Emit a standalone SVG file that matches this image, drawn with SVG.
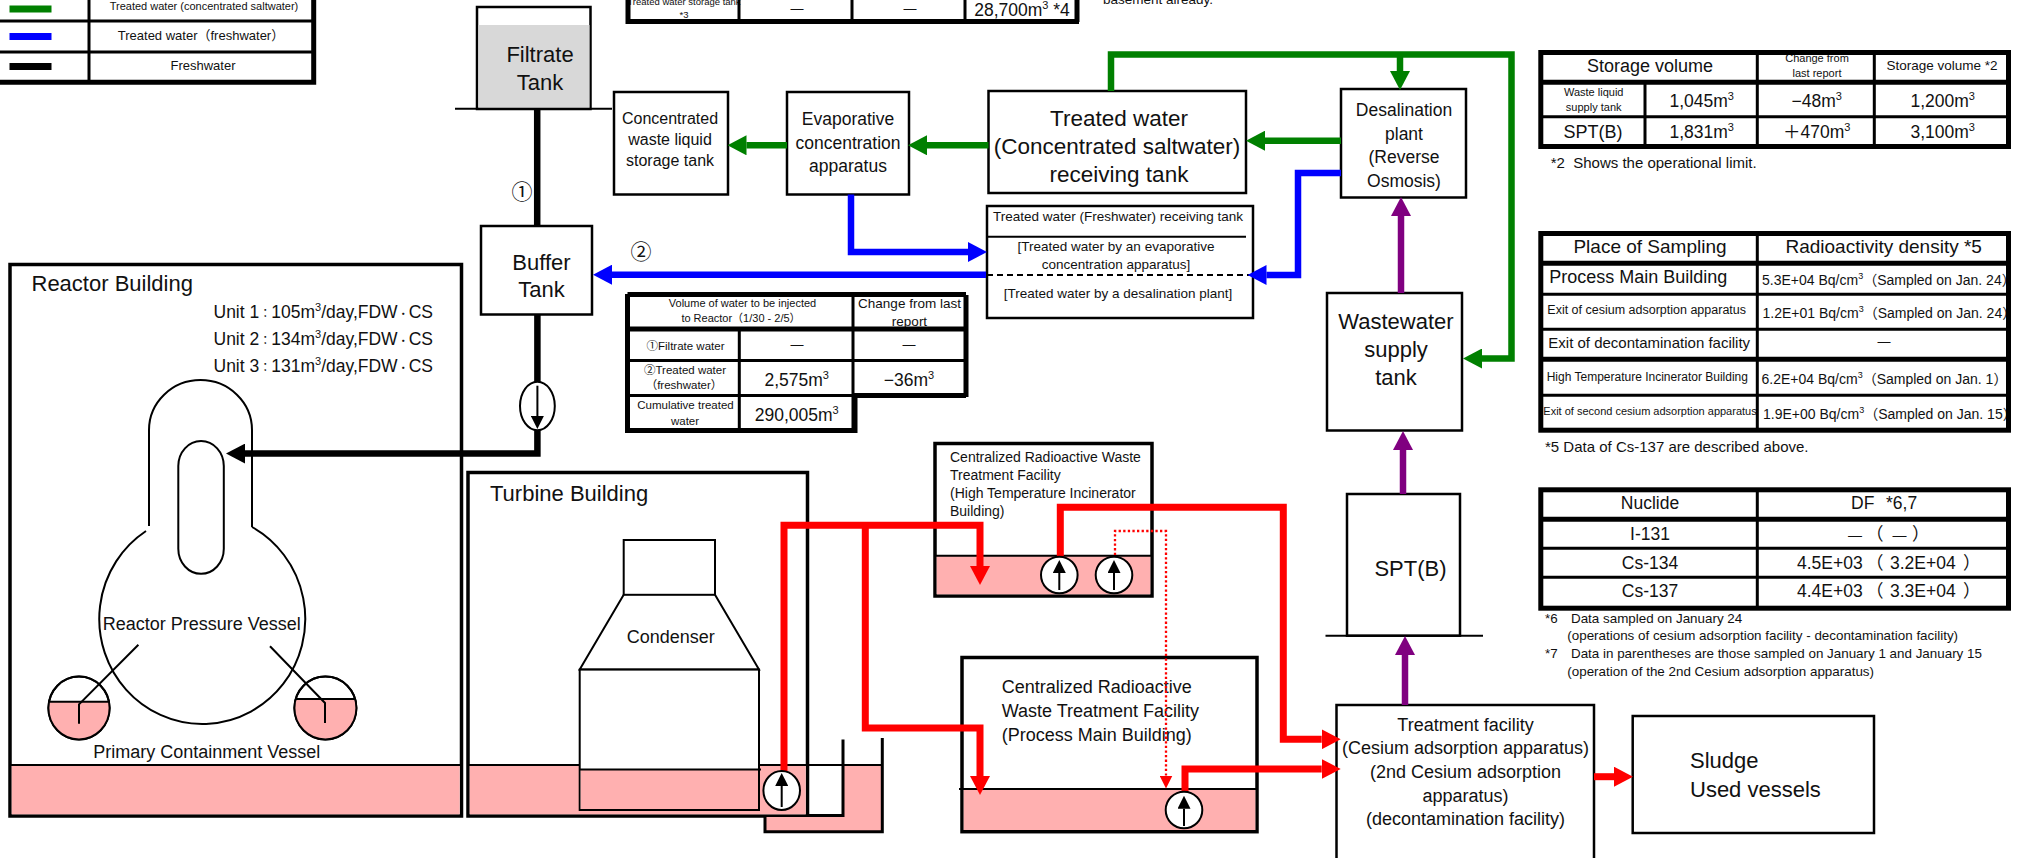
<svg xmlns="http://www.w3.org/2000/svg" width="2020" height="858" viewBox="0 0 2020 858">
<style>
text{font-family:"Liberation Sans","Noto Sans CJK JP",sans-serif;fill:#111}
.m{text-anchor:middle}
.b{fill:#fff;stroke:#000;stroke-width:2.5}
.bb{fill:#fff;stroke:#000;stroke-width:3.5}
.n{fill:none;stroke:#000;stroke-width:2}
.w{fill:#ffb0b0;stroke:none}
.o{fill:none;stroke:#000;stroke-width:5}
.i{fill:none;stroke:#000;stroke-width:3}
.p{fill:#fff;stroke:#000;stroke-width:2}
.c{fill:none;stroke-width:6.5;stroke-linejoin:miter}
.g{stroke:#008000}.u{stroke:#0000ff}.k{stroke:#000}.r{stroke:#ff0000;stroke-width:7}.v{stroke:#800080}
</style>
<defs>
<marker id="ag" markerUnits="userSpaceOnUse" markerWidth="19" markerHeight="20" viewBox="0 0 19 20" refX="0" refY="10" orient="auto"><path d="M0,0L19,10L0,20z" fill="#008000"/></marker>
<marker id="au" markerUnits="userSpaceOnUse" markerWidth="19" markerHeight="20" viewBox="0 0 19 20" refX="0" refY="10" orient="auto"><path d="M0,0L19,10L0,20z" fill="#0000ff"/></marker>
<marker id="ak" markerUnits="userSpaceOnUse" markerWidth="19" markerHeight="20" viewBox="0 0 19 20" refX="0" refY="10" orient="auto"><path d="M0,0L19,10L0,20z" fill="#000"/></marker>
<marker id="ar" markerUnits="userSpaceOnUse" markerWidth="19" markerHeight="20" viewBox="0 0 19 20" refX="0" refY="10" orient="auto"><path d="M0,0L19,10L0,20z" fill="#ff0000"/></marker>
<marker id="av" markerUnits="userSpaceOnUse" markerWidth="19" markerHeight="20" viewBox="0 0 19 20" refX="0" refY="10" orient="auto"><path d="M0,0L19,10L0,20z" fill="#800080"/></marker>
<marker id="ad" markerUnits="userSpaceOnUse" markerWidth="13" markerHeight="13" viewBox="0 0 13 13" refX="0" refY="6.5" orient="auto"><path d="M0,0L13,6.5L0,13z" fill="#ff0000"/></marker>
<marker id="ap" markerUnits="userSpaceOnUse" markerWidth="13" markerHeight="13" viewBox="0 0 13 13" refX="0" refY="6.5" orient="auto"><path d="M0,0L13,6.5L0,13z" fill="#000"/></marker>
</defs>

<g id="legend">
<rect x="9.5" y="5.5" width="42" height="7" fill="#008000"/>
<rect x="9.5" y="33" width="42" height="7" fill="#0000ff"/>
<rect x="9.5" y="63" width="42" height="7" fill="#000"/>
<text class="m" x="204" y="10" font-size="11">Treated water (concentrated saltwater)</text>
<text class="m" x="201" y="40" font-size="13">Treated water（freshwater）</text>
<text class="m" x="203" y="70" font-size="13">Freshwater</text>
<path class="i" d="M89,0V82M0,21H314M0,52H314"/>
<path class="o" d="M313.7,0V82.3H0" stroke-width="4.7"/>
</g>

<g id="table-top">
<text class="m" x="684" y="4.5" font-size="9.5">Treated water storage tank</text>
<text class="m" x="684" y="17.5" font-size="9.5">*3</text>
<text class="m" x="797" y="13" font-size="13">—</text>
<text class="m" x="910" y="13" font-size="13">—</text>
<text class="m" x="1022" y="16" font-size="17.5">28,700m<tspan dy="-7" font-size="11">3</tspan><tspan dy="7"> *4</tspan></text>
<path class="i" d="M739,0V20M852,0V20M965,0V20"/>
<path class="o" d="M628,0V24M628,21.5H1079M1077,0V22" stroke-width="4.5"/>
<text x="1103" y="4" font-size="13.5">basement already.</text>
</g>

<g id="filtrate-tank">
<rect class="b" x="477" y="7" width="113.5" height="102"/>
<rect x="478.5" y="25" width="111" height="83" fill="#d8d8d8"/>
<path class="n" d="M455,108.7H612"/>
<text class="m" x="540" y="62" font-size="22">Filtrate</text>
<text class="m" x="540" y="90" font-size="22">Tank</text>
</g>
<text class="m" x="522" y="199" font-size="21">①</text>
<text class="m" x="641" y="259" font-size="21">②</text>

<g id="buffer-tank">
<rect class="b" x="481" y="226" width="111" height="88.5"/>
<text class="m" x="541.5" y="269.5" font-size="22">Buffer</text>
<text class="m" x="541.5" y="297" font-size="22">Tank</text>
</g>

<g id="concentrated-storage">
<rect class="b" x="614" y="92" width="114" height="102.5"/>
<text class="m" x="670" y="124" font-size="16">Concentrated</text>
<text class="m" x="670" y="145" font-size="16">waste liquid</text>
<text class="m" x="670" y="166" font-size="16">storage tank</text>
</g>
<g id="evaporative">
<rect class="b" x="787" y="92" width="122" height="102.5"/>
<text class="m" x="848" y="125" font-size="17.5">Evaporative</text>
<text class="m" x="848" y="149" font-size="17.5">concentration</text>
<text class="m" x="848" y="172" font-size="17.5">apparatus</text>
</g>
<g id="treated-receiving">
<rect class="b" x="988.5" y="91" width="257.5" height="102"/>
<text class="m" x="1119" y="126" font-size="22.5">Treated water</text>
<text class="m" x="1117" y="154" font-size="22.5">(Concentrated saltwater)</text>
<text class="m" x="1119" y="182" font-size="22.5">receiving tank</text>
</g>
<g id="desalination">
<rect class="b" x="1341" y="89" width="125" height="108.5"/>
<text class="m" x="1404" y="116" font-size="17.5">Desalination</text>
<text class="m" x="1404" y="140" font-size="17.5">plant</text>
<text class="m" x="1404" y="163" font-size="17.5">(Reverse</text>
<text class="m" x="1404" y="187" font-size="17.5">Osmosis)</text>
</g>
<g id="freshwater-receiving">
<rect class="b" x="987" y="206" width="266" height="112"/>
<path class="n" d="M987,236.7H1246"/>
<path class="n" d="M987,275H1253" stroke-dasharray="6 4"/>
<text class="m" x="1118" y="221" font-size="13.5">Treated water (Freshwater) receiving tank</text>
<text class="m" x="1116" y="250.5" font-size="13.5">[Treated water by an evaporative</text>
<text class="m" x="1116" y="268.5" font-size="13.5">concentration apparatus]</text>
<text class="m" x="1118" y="297.5" font-size="13.5">[Treated water by a desalination plant]</text>
</g>
<g id="wastewater">
<rect class="b" x="1327" y="293" width="135" height="137.5"/>
<text class="m" x="1396" y="329" font-size="22">Wastewater</text>
<text class="m" x="1396" y="357" font-size="22">supply</text>
<text class="m" x="1396" y="385" font-size="22">tank</text>
</g>
<g id="spt-b">
<rect class="b" x="1347" y="494" width="113" height="141.7"/>
<path class="n" d="M1325.5,635.7H1483"/>
<text class="m" x="1410.5" y="576" font-size="22">SPT(B)</text>
</g>
<g id="treatment-facility">
<path class="b" d="M1336.5,860V705H1594V860"/>
<text class="m" x="1465.5" y="730.5" font-size="18">Treatment facility</text>
<text class="m" x="1465.5" y="754" font-size="18">(Cesium adsorption apparatus)</text>
<text class="m" x="1465.5" y="778" font-size="18">(2nd Cesium adsorption</text>
<text class="m" x="1465.5" y="802" font-size="18">apparatus)</text>
<text class="m" x="1465.5" y="825" font-size="18">(decontamination facility)</text>
</g>
<g id="sludge">
<rect class="b" x="1632.7" y="716" width="241.3" height="117"/>
<text x="1690" y="768" font-size="22">Sludge</text>
<text x="1690" y="796.7" font-size="22">Used vessels</text>
</g>

<g id="reactor-building">
<rect class="bb" x="10" y="264.5" width="451.5" height="551.5"/>
<rect class="w" x="11.7" y="765" width="448" height="49.3"/>
<path class="n" d="M11,765H461"/>
<text x="31.5" y="290.5" font-size="22">Reactor Building</text>
<text x="213.5" y="318" font-size="17.5">Unit 1<tspan font-size="12">：</tspan>105m<tspan dy="-7" font-size="11">3</tspan><tspan dy="7">/day,FDW</tspan><tspan font-size="11">・</tspan>CS</text>
<text x="213.5" y="345" font-size="17.5">Unit 2<tspan font-size="12">：</tspan>134m<tspan dy="-7" font-size="11">3</tspan><tspan dy="7">/day,FDW</tspan><tspan font-size="11">・</tspan>CS</text>
<text x="213.5" y="372" font-size="17.5">Unit 3<tspan font-size="12">：</tspan>131m<tspan dy="-7" font-size="11">3</tspan><tspan dy="7">/day,FDW</tspan><tspan font-size="11">・</tspan>CS</text>
<path class="n" d="M149,526V430A51.5,50 0 0 1 252,430V527"/>
<path class="n" d="M146,531A103,105 0 1 0 252,527"/>
<rect class="n" x="178.3" y="441" width="45.5" height="132.8" rx="22.75" ry="25"/>
<text class="m" x="201.7" y="630" font-size="18">Reactor Pressure Vessel</text>
<text class="m" x="206.8" y="758" font-size="18">Primary Containment Vessel</text>
<ellipse class="p" cx="79" cy="708" rx="30.6" ry="31.4"/>
<path class="w" d="M49,701.7A30.6,31.4 0 1 0 109,701.7Z"/>
<path class="n" d="M49,701.7H109"/>
<ellipse class="n" cx="79" cy="708" rx="30.6" ry="31.4"/>
<ellipse class="p" cx="325.4" cy="708" rx="31" ry="31.4"/>
<path class="w" d="M295.7,699A31,31.4 0 1 0 355.1,699Z"/>
<path class="n" d="M295.7,699H355.1"/>
<ellipse class="n" cx="325.4" cy="708" rx="31" ry="31.4"/>
<path class="n" d="M138.4,644.7L79,704.4V723.8M270,646.3L325,703V723"/>
</g>

<g id="turbine-building">
<rect class="bb" x="468" y="472.5" width="339.5" height="343.5"/>
<rect class="w" x="469.7" y="765" width="336" height="49.3"/>
<path class="n" d="M469,765H882"/>
<text x="490" y="500.5" font-size="22">Turbine Building</text>
<g id="condenser">
<rect class="n" x="623.7" y="540" width="91.3" height="54.8"/>
<path class="n" d="M623.7,594.8L579.7,669.6H759L715,594.8"/>
<rect class="p" x="579.7" y="669.6" width="179.3" height="140.4"/>
<rect class="w" x="580.7" y="769.5" width="177.3" height="39.5"/>
<path class="n" d="M579.7,769.5H761"/>
<text class="m" x="670.7" y="643" font-size="18">Condenser</text>
</g>
</g>

<g id="sump">
<path class="w" d="M843,765H882V831H765V817H843Z"/>
<path class="n" d="M809,765H882"/>
<path class="i" d="M843,739.5V815.5H809M882.3,738V831.8H765V817"/>
</g>

<g id="table-injection">
<text class="m" x="742.5" y="306.5" font-size="11">Volume of water to be injected</text>
<text class="m" x="741" y="321.5" font-size="11">to Reactor（1/30 - 2/5）</text>
<text class="m" x="909.5" y="308" font-size="13.5">Change from last</text>
<text class="m" x="909.5" y="326" font-size="13.5">report</text>
<text class="m" x="685.5" y="349.5" font-size="11.5">①Filtrate water</text>
<text class="m" x="797" y="349" font-size="13">—</text>
<text class="m" x="909" y="349" font-size="13">—</text>
<text class="m" x="685" y="374" font-size="11.5">②Treated water</text>
<text class="m" x="684" y="388.5" font-size="11.5">（freshwater）</text>
<text class="m" x="796.7" y="386" font-size="17.5">2,575m<tspan dy="-7" font-size="11">3</tspan></text>
<text class="m" x="909" y="386" font-size="17.5">−36m<tspan dy="-7" font-size="11">3</tspan></text>
<text class="m" x="685.5" y="409" font-size="11.5">Cumulative treated</text>
<text class="m" x="685" y="425" font-size="11.5">water</text>
<text class="m" x="796.7" y="421" font-size="17.5">290,005m<tspan dy="-7" font-size="11">3</tspan></text>
<path class="i" d="M739.3,329V432M853,295V432" />
<path class="i" d="M628,360.4H966"/>
<path class="o" d="M628,329H966" stroke-width="4"/>
<path class="o" d="M853,395.4H966" stroke-width="4"/>
<path class="i" d="M628,395.4H853" stroke-width="3"/>
<path class="o" d="M966,295V397M627.5,294.5H966M627.5,294V430.5H855V395" stroke-width="4.5"/>
</g>

<g id="table-storage">
<text class="m" x="1650" y="72" font-size="18">Storage volume</text>
<text class="m" x="1817" y="62" font-size="11">Change from</text>
<text class="m" x="1817" y="77" font-size="11">last report</text>
<text class="m" x="1942" y="70" font-size="13.5">Storage volume *2</text>
<text class="m" x="1593.7" y="96" font-size="11">Waste liquid</text>
<text class="m" x="1593.7" y="111" font-size="11">supply tank</text>
<text class="m" x="1701.7" y="107" font-size="17.5">1,045m<tspan dy="-7" font-size="11">3</tspan></text>
<text class="m" x="1816.7" y="107" font-size="17.5">−48m<tspan dy="-7" font-size="11">3</tspan></text>
<text class="m" x="1942.7" y="107" font-size="17.5">1,200m<tspan dy="-7" font-size="11">3</tspan></text>
<text class="m" x="1593" y="137.5" font-size="18">SPT(B)</text>
<text class="m" x="1701.7" y="137.5" font-size="17.5">1,831m<tspan dy="-7" font-size="11">3</tspan></text>
<text class="m" x="1816.7" y="137.5" font-size="17.5">＋470m<tspan dy="-7" font-size="11">3</tspan></text>
<text class="m" x="1942.7" y="137.5" font-size="17.5">3,100m<tspan dy="-7" font-size="11">3</tspan></text>
<path class="i" d="M1757.3,52V147M1874.3,52V147M1645,82V147M1541,116.7H2008"/>
<path class="o" d="M1541,82.3H2008"/>
<rect class="o" x="1540.8" y="52.5" width="467.7" height="94"/>
<text x="1550.7" y="167.7" font-size="15" xml:space="preserve">*2  Shows the operational limit.</text>
</g>

<g id="table-density">
<text class="m" x="1650" y="253" font-size="19">Place of Sampling</text>
<text class="m" x="1883.7" y="253" font-size="19">Radioactivity density *5</text>
<text x="1549.3" y="283.3" font-size="18">Process Main Building</text>
<text x="1762" y="285" font-size="14">5.3E+04 Bq/cm<tspan dy="-6" font-size="9">3</tspan><tspan dy="6">（Sampled on Jan. 24）</tspan></text>
<text x="1547.3" y="314.3" font-size="12.5">Exit of cesium adsorption apparatus</text>
<text x="1762.5" y="318.3" font-size="14">1.2E+01 Bq/cm<tspan dy="-6" font-size="9">3</tspan><tspan dy="6">（Sampled on Jan. 24）</tspan></text>
<text x="1548.3" y="347.7" font-size="15">Exit of decontamination facility</text>
<text class="m" x="1884" y="346" font-size="13">—</text>
<text x="1546.7" y="380.7" font-size="12">High Temperature Incinerator Building</text>
<text x="1761.5" y="384.3" font-size="14">6.2E+04 Bq/cm<tspan dy="-6" font-size="9">3</tspan><tspan dy="6">（Sampled on Jan. 1）</tspan></text>
<text x="1543.3" y="415.3" font-size="11">Exit of second cesium adsorption apparatus</text>
<text x="1763" y="419.3" font-size="14">1.9E+00 Bq/cm<tspan dy="-6" font-size="9">3</tspan><tspan dy="6">（Sampled on Jan. 15）</tspan></text>
<path class="i" d="M1757.3,233V431M1541,294.3H2008M1541,329.3H2008M1541,395.3H2008"/>
<path class="o" d="M1541,263.3H2008M1541,359.3H2008"/>
<rect class="o" x="1540.8" y="233.5" width="467.7" height="196.7"/>
<text x="1545" y="452" font-size="15">*5 Data of Cs-137 are described above.</text>
</g>

<g id="table-df">
<text class="m" x="1650" y="509" font-size="17.5">Nuclide</text>
<text y="509" font-size="17.5"><tspan x="1851">DF</tspan><tspan x="1886">*6,7</tspan></text>
<text class="m" x="1650" y="540" font-size="17.5">I-131</text>
<text y="540" font-size="17.5"><tspan x="1848" font-size="14">—</tspan><tspan x="1866">（</tspan><tspan x="1892.5" font-size="14">—</tspan><tspan x="1912">）</tspan></text>
<text class="m" x="1650" y="569" font-size="17.5">Cs-134</text>
<text y="569" font-size="17.5"><tspan x="1797">4.5E+03</tspan><tspan x="1866">（</tspan><tspan x="1890">3.2E+04</tspan><tspan x="1963">）</tspan></text>
<text class="m" x="1650" y="597" font-size="17.5">Cs-137</text>
<text y="597" font-size="17.5"><tspan x="1797">4.4E+03</tspan><tspan x="1866">（</tspan><tspan x="1890">3.3E+04</tspan><tspan x="1963">）</tspan></text>
<path class="i" d="M1757.3,488V610M1541,548.3H2008M1541,577.3H2008"/>
<path class="o" d="M1541,519.3H2008"/>
<rect class="o" x="1540.8" y="489.8" width="467.7" height="118.4"/>
<text x="1545" y="623" font-size="13.4">*6</text>
<text x="1571" y="623" font-size="13.4">Data sampled on January 24</text>
<text x="1567.3" y="640.3" font-size="13.4">(operations of cesium adsorption facility - decontamination facility)</text>
<text x="1545" y="658.3" font-size="13.4">*7</text>
<text x="1571" y="658.3" font-size="13.4">Data in parentheses are those sampled on January 1 and January 15</text>
<text x="1567.3" y="676" font-size="13.4">(operation of the 2nd Cesium adsorption apparatus)</text>
</g>

<g id="hti-building">
<rect class="bb" x="935" y="443.5" width="217" height="152.5"/>
<rect class="w" x="936.7" y="555.7" width="213.6" height="38.6"/>
<path class="n" d="M936,555.7H1151"/>
<text x="950" y="462" font-size="14">Centralized Radioactive Waste</text>
<text x="950" y="479.5" font-size="14">Treatment Facility</text>
<text x="950" y="497.5" font-size="14">(High Temperature Incinerator</text>
<text x="950" y="515.5" font-size="14">Building)</text>
</g>
<g id="pm-building">
<rect class="bb" x="962" y="657.5" width="295" height="174.2"/>
<rect class="w" x="963.7" y="789" width="291.6" height="41"/>
<path class="n" d="M959,789H1256"/>
<text x="1001.7" y="693.3" font-size="18">Centralized Radioactive</text>
<text x="1001.7" y="717.3" font-size="18">Waste Treatment Facility</text>
<text x="1001.7" y="740.7" font-size="18">(Process Main Building)</text>
</g>

<g id="connectors">
<path class="c k" d="M537.2,109V226M537.4,314V382M537.4,430V453.6H245" marker-end="url(#ak)"/>
<path class="c g" d="M1111,91V54.5H1511.5V358.5H1482" marker-end="url(#ag)"/>
<path class="c g" d="M1400,54.5V71" marker-end="url(#ag)"/>
<path class="c g" d="M1341,140.7H1265" marker-end="url(#ag)"/>
<path class="c g" d="M988.5,145.3H927" marker-end="url(#ag)"/>
<path class="c g" d="M787,145.3H746.5" marker-end="url(#ag)"/>
<path class="c u" d="M851,194.5V252H968" marker-end="url(#au)"/>
<path class="c u" d="M1341,173H1298V275H1266.5" marker-end="url(#au)"/>
<path class="c u" d="M986,274.7H612" marker-end="url(#au)"/>
<path class="c v" d="M1401,293V216" marker-end="url(#av)"/>
<path class="c v" d="M1403,494V450" marker-end="url(#av)"/>
<path class="c v" d="M1405,705V655" marker-end="url(#av)"/>
<path class="c r" d="M784,771V525.3H980V566" marker-end="url(#ar)"/>
<path class="c r" d="M865.3,525.3V728H980V776" marker-end="url(#ar)"/>
<path class="c r" d="M1060.3,557V507.3H1283.3V739.3H1321.7" marker-end="url(#ar)"/>
<path class="c r" d="M1185,792V769H1321.7" marker-end="url(#ar)"/>
<path class="c r" d="M1594,776.7H1614" marker-end="url(#ar)"/>
<path d="M1115,555V531H1166V775.5" fill="none" stroke="#ff0000" stroke-width="2.3" stroke-dasharray="2.3 2.3" marker-end="url(#ad)"/>
</g>

<g id="pump-feed">
<ellipse class="p" cx="537.4" cy="406" rx="17.4" ry="24.3"/>
<path class="n" d="M537.4,385.7V416" stroke-width="1.5" marker-end="url(#ap)"/>
</g>
<g id="pump-turbine">
<ellipse class="p" cx="781.7" cy="790.5" rx="18.3" ry="19.5"/>
<path class="n" d="M781.7,807V786" stroke-width="1.5" marker-end="url(#ap)"/>
</g>
<g id="pump-hti-1">
<ellipse class="p" cx="1059.3" cy="575" rx="18.3" ry="18.3"/>
<path class="n" d="M1059.3,590V573" stroke-width="1.5" marker-end="url(#ap)"/>
</g>
<g id="pump-hti-2">
<ellipse class="p" cx="1114" cy="575" rx="18.3" ry="18.3"/>
<path class="n" d="M1114,590V573" stroke-width="1.5" marker-end="url(#ap)"/>
</g>
<g id="pump-pm">
<ellipse class="p" cx="1184" cy="810" rx="18.3" ry="18.3"/>
<path class="n" d="M1184,826V808.7" stroke-width="1.5" marker-end="url(#ap)"/>
</g>
</svg>
